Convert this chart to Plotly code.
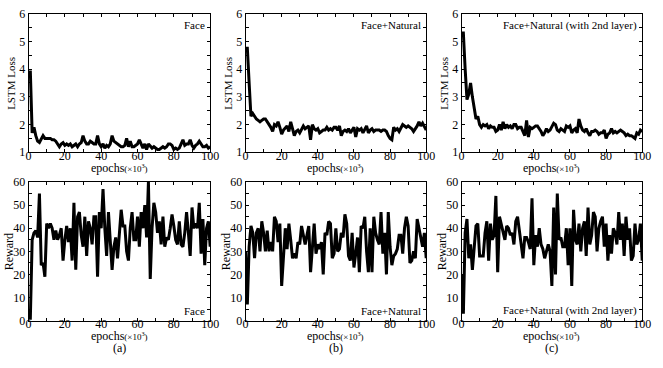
import plotly.graph_objects as go
from plotly.subplots import make_subplots

# epochs (x10^3)
epochs = list(range(0, 101))

# LSTM loss, Face
loss_face = [3.9, 3.9, 1.7, 1.9, 1.6, 1.4, 1.35, 1.5, 1.6, 1.5, 1.5, 1.5, 1.5, 1.45, 1.45, 1.4, 1.3, 1.2, 1.3, 1.35,
             1.25, 1.3, 1.25, 1.3, 1.2, 1.25, 1.3, 1.2, 1.3, 1.35, 1.6, 1.4, 1.3, 1.3, 1.4, 1.35, 1.3, 1.3, 1.6, 1.3,
             1.2, 1.3, 1.15, 1.25, 1.2, 1.3, 1.6, 1.4, 1.35, 1.3, 1.25, 1.2, 1.2, 1.25, 1.5, 1.2, 1.4, 1.2, 1.2, 1.25,
             1.3, 1.45, 1.3, 1.15, 1.3, 1.1, 1.3, 1.2, 1.15, 1.2, 1.15, 1.1, 1.1, 1.15, 1.2, 1.15, 1.2, 1.3, 1.3, 1.25,
             1.1, 1.15, 1.1, 1.15, 1.3, 1.45, 1.25, 1.3, 1.3, 1.45, 1.25, 1.15, 1.25, 1.3, 1.4, 1.3, 1.2, 1.2, 1.25, 1.15,
             1.2]

# LSTM loss, Face+Natural
loss_nat = [4.75, 4.75, 3.5, 2.3, 2.4, 2.3, 2.2, 2.15, 2.1, 2.15, 2.2, 2.2, 2.1, 2.0, 1.9, 1.75, 2.0, 1.95, 2.1, 1.9,
            1.65, 1.8, 1.9, 1.95, 1.75, 2.1, 1.85, 1.6, 1.75, 1.8, 1.7, 1.85, 1.95, 1.85, 1.9, 1.95, 1.45, 2.0, 1.85, 1.8,
            1.85, 1.7, 1.75, 1.8, 1.8, 1.9, 1.8, 1.85, 1.8, 1.9, 1.9, 1.8, 1.95, 1.6, 1.75, 1.8, 1.75, 1.85, 1.7, 1.8,
            1.9, 1.55, 1.85, 1.8, 1.85, 1.7, 1.8, 1.95, 1.7, 1.8, 1.85, 1.75, 1.8, 1.8, 1.8, 1.75, 1.8, 1.8, 1.75, 1.6,
            1.5, 1.45, 1.9, 1.8, 1.85, 1.75, 1.9, 2.0, 1.95, 1.9, 1.95, 1.9, 1.85, 1.75, 1.85, 1.95, 2.1, 1.95, 2.05, 1.9,
            1.8]

# LSTM loss, Face+Natural (with 2nd layer)
loss_2nd = [5.3, 5.3, 4.0, 2.9, 3.1, 3.5, 3.0, 2.6, 2.2, 2.3, 2.0, 1.9, 2.0, 1.95, 2.0, 1.85, 1.95, 1.9, 1.9, 1.75,
            1.8, 2.0, 1.8, 2.1, 1.85, 2.0, 1.9, 1.95, 1.85, 2.0, 2.0, 1.85, 1.9, 1.9, 1.75, 1.6, 2.15, 1.55, 1.9, 1.85,
            1.9, 1.95, 1.95, 1.85, 1.75, 1.6, 1.7, 1.85, 1.75, 1.8, 1.9, 2.05, 2.0, 1.8, 1.75, 1.85, 1.8, 1.75, 1.95, 1.9,
            1.95, 1.7, 1.8, 1.85, 1.7, 2.2, 1.95, 1.8, 1.75, 1.85, 1.7, 1.6, 1.75, 1.75, 1.8, 1.75, 1.65, 1.7, 1.7, 1.8,
            1.5, 1.65, 1.7, 1.85, 1.7, 1.75, 1.7, 1.75, 1.8, 1.75, 1.7, 1.6, 1.65, 1.6, 1.6, 1.55, 1.5, 1.7, 1.65, 1.8,
            1.75]

# Reward, Face
reward_face = [1, 1, 35, 38, 39, 36, 55, 24, 25, 19, 42, 40, 42, 40, 35, 39, 35, 37, 40, 26,
               35, 41, 34, 40, 26, 51, 22, 45, 47, 37, 32, 45, 28, 43, 40, 33, 45, 45, 19, 47,
               40, 57, 40, 28, 47, 35, 22, 32, 36, 27, 39, 48, 41, 41, 30, 26, 40, 47, 35, 35,
               45, 32, 47, 40, 50, 36, 60, 18, 40, 51, 47, 38, 43, 33, 45, 32, 36, 35, 40, 46,
               41, 35, 33, 43, 33, 32, 38, 47, 38, 28, 49, 40, 42, 40, 51, 29, 44, 24, 40, 43,
               32]

# Reward, Face+Natural
reward_nat = [30, 7, 32, 41, 38, 27, 38, 40, 30, 43, 38, 30, 39, 30, 34, 30, 45, 43, 34, 42,
              15, 28, 40, 31, 42, 35, 27, 29, 27, 34, 33, 41, 37, 33, 37, 41, 21, 32, 42, 29,
              33, 31, 34, 20, 38, 37, 43, 42, 27, 29, 40, 30, 31, 38, 36, 46, 42, 28, 26, 38,
              23, 29, 36, 21, 41, 40, 45, 30, 21, 40, 21, 45, 38, 35, 33, 47, 29, 38, 20, 47,
              32, 24, 28, 29, 31, 37, 37, 29, 40, 45, 41, 25, 26, 30, 27, 44, 40, 37, 32, 38,
              27]

# Reward, Face+Natural (with 2nd layer)
reward_2nd = [20, 3, 38, 44, 27, 33, 22, 30, 41, 42, 28, 28, 28, 38, 43, 26, 42, 35, 37, 54,
              21, 45, 42, 38, 35, 41, 40, 37, 38, 33, 43, 45, 38, 33, 27, 36, 36, 34, 31, 53,
              24, 37, 32, 40, 33, 31, 27, 30, 33, 30, 15, 49, 20, 55, 35, 36, 32, 32, 40, 24,
              40, 15, 48, 35, 33, 42, 30, 40, 43, 28, 49, 33, 37, 47, 45, 30, 40, 43, 45, 32,
              42, 26, 37, 29, 40, 38, 33, 47, 35, 42, 28, 45, 35, 40, 26, 28, 42, 33, 35, 42,
              26]

names = ["Face", "Face+Natural", "Face+Natural (with 2nd layer)"]
losses = [loss_face, loss_nat, loss_2nd]
rewards = [reward_face, reward_nat, reward_2nd]
letters = ["(a)", "(b)", "(c)"]

W, H = 663, 368
FONT = "Liberation Serif, Times New Roman, serif"

fig = make_subplots(rows=2, cols=3)

xdoms = [(26 / W, 211 / W), (247 / W, 431 / W), (467 / W, 651 / W)]
ydoms = [(1 - 151 / H, 1 - 7 / H), (1 - 326 / H, 1 - 182 / H)]

for c in range(3):
    fig.add_trace(go.Scatter(x=epochs, y=losses[c], mode="lines",
                             line=dict(color="black", width=3), showlegend=False), row=1, col=c + 1)
    fig.add_trace(go.Scatter(x=epochs, y=rewards[c], mode="lines",
                             line=dict(color="black", width=3), showlegend=False), row=2, col=c + 1)

axis_common = dict(showline=True, linecolor="black", linewidth=1, mirror="ticks",
                   ticks="inside", ticklen=3, tickcolor="black", showgrid=False, zeroline=False,
                   tickfont=dict(family=FONT, size=12, color="black"))

for r in range(2):
    for c in range(3):
        fig.update_xaxes(axis_common, domain=xdoms[c], range=[0, 100], dtick=20, ticklabelstandoff=-8,
                         minor=dict(dtick=10, ticks="inside", ticklen=3, tickcolor="black"),
                         row=r + 1, col=c + 1)
        if r == 0:
            fig.update_yaxes(axis_common, domain=ydoms[0], range=[1, 6], dtick=1,
                             minor=dict(dtick=0.5, ticks="inside", ticklen=3, tickcolor="black"),
                             row=1, col=c + 1)
        else:
            fig.update_yaxes(axis_common, domain=ydoms[1], range=[0, 60], dtick=10,
                             minor=dict(dtick=5, ticks="inside", ticklen=3, tickcolor="black"),
                             row=2, col=c + 1)

xtitle = "epochs<span style='font-size:9px'>(×10<sup>3</sup>)</span>"


def txt(text, x, y, size, xanchor="center", yanchor="middle", angle=0):
    return dict(text=text, x=x / W, y=1 - y / H, xref="paper", yref="paper",
                xanchor=xanchor, yanchor=yanchor, showarrow=False, textangle=angle,
                font=dict(family=FONT, size=size, color="black"))


annotations = []
for c in range(3):
    left = xdoms[c][0] * W
    right = xdoms[c][1] * W
    mid = (left + right) / 2
    annotations.append(txt(names[c], right - 3, 10, 11, xanchor="right", yanchor="top"))
    annotations.append(txt(names[c], right - 3, 324, 11, xanchor="right", yanchor="bottom"))
    annotations.append(txt(xtitle, mid, 167, 12))
    annotations.append(txt(xtitle, mid, 342, 12))
    annotations.append(txt("LSTM Loss", left - 18, 79, 11, angle=-90))
    annotations.append(txt("Reward", left - 20, 254, 12, angle=-90))
    annotations.append(txt(letters[c], mid, 355, 12))

fig.update_layout(width=W, height=H, margin=dict(l=0, r=0, t=0, b=0),
                  paper_bgcolor="white", plot_bgcolor="white",
                  annotations=annotations, font=dict(family=FONT, color="black"))

# page body has a default 8px margin; drop it so the figure fills the window
fig.write_html("out.html", config={"displayModeBar": False},
               post_script="document.body.style.margin='0';")
